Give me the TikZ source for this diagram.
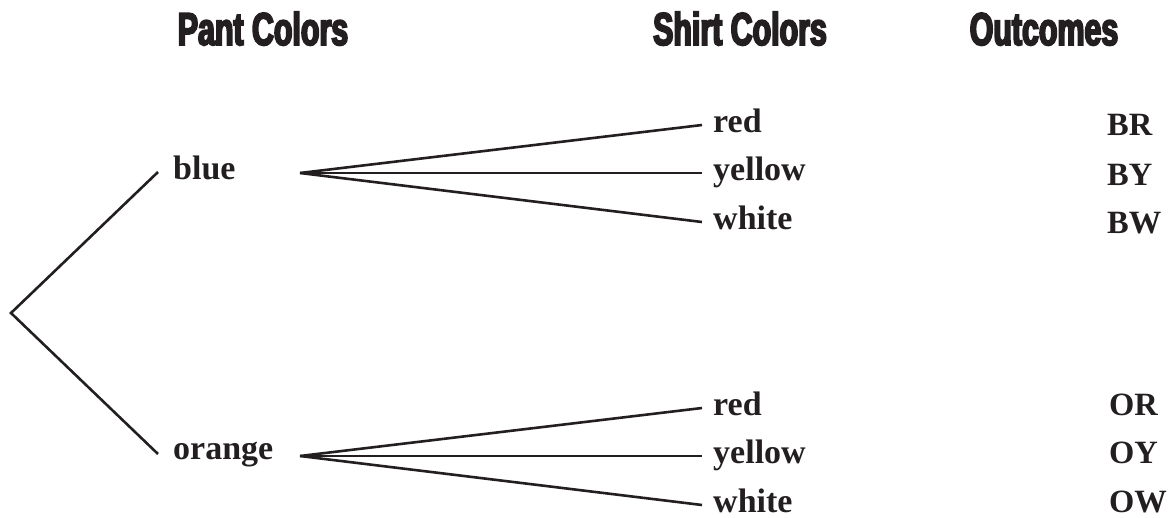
\documentclass[tikz,border=0pt]{standalone}
\usepackage{fontspec}
\setmainfont{Liberation Serif}
\newfontfamily\hdrfont[FakeStretch=0.66,FakeBold=4]{Liberation Sans}
\definecolor{ink}{RGB}{35,31,32}
\begin{document}
\begin{tikzpicture}[x=1pt,y=-1pt,
  hdr/.style={font=\hdrfont\bfseries\fontsize{46}{46}\selectfont, text=ink, anchor=base, inner sep=0pt},
  lbl/.style={font=\bfseries\fontsize{34}{34}\selectfont, text=ink, anchor=base west, inner sep=0pt},
  outc/.style={font=\bfseries\fontsize{32.5}{32.5}\selectfont, text=ink, anchor=base west, inner sep=0pt},
  branch/.style={draw=ink, line width=2.6pt, line join=miter}]
\useasboundingbox (0,0) rectangle (1170,517);
% headers
\node[hdr] (hpant) at (263,45) {Pant Colors};
\node[hdr] (hshirt) at (740,45) {Shirt Colors};
\node[hdr] (hout) at (1044,45) {Outcomes};
% pant labels
\node[lbl] (blue) at (173,179) {blue};
\node[lbl] (orange) at (173,459) {orange};
% shirt labels
\node[lbl] (bred) at (713,132) {red};
\node[lbl] (byel) at (713,180) {yellow};
\node[lbl] (bwhi) at (713,229) {white};
\node[lbl] (ored) at (713,415) {red};
\node[lbl] (oyel) at (713,463) {yellow};
\node[lbl] (owhi) at (713,512) {white};
% outcomes
\node[outc] (BR) at (1107,135) {BR};
\node[outc] (BY) at (1107,185) {BY};
\node[outc] (BW) at (1107,233) {BW};
\node[outc] (OR) at (1109,415) {OR};
\node[outc] (OY) at (1109,463) {OY};
\node[outc] (OW) at (1109,512) {OW};
% branch points
\coordinate (root) at (11,313);
\coordinate (blueIn) at (158,172);
\coordinate (orangeIn) at (158,454);
\coordinate (blueFork) at (300,173);
\coordinate (orangeFork) at (300,456);
\coordinate (bredEnd) at (702,125);
\coordinate (byelEnd) at (702,173);
\coordinate (bwhiEnd) at (702,222);
\coordinate (oredEnd) at (702,408);
\coordinate (oyelEnd) at (702,456);
\coordinate (owhiEnd) at (702,505);
\draw[branch] (blueIn) -- (root) -- (orangeIn);
\draw[branch] (blueFork) -- (bredEnd);
\draw[branch] (blueFork) -- (byelEnd);
\draw[branch] (blueFork) -- (bwhiEnd);
\draw[branch] (orangeFork) -- (oredEnd);
\draw[branch] (orangeFork) -- (oyelEnd);
\draw[branch] (orangeFork) -- (owhiEnd);
\end{tikzpicture}
\end{document}
